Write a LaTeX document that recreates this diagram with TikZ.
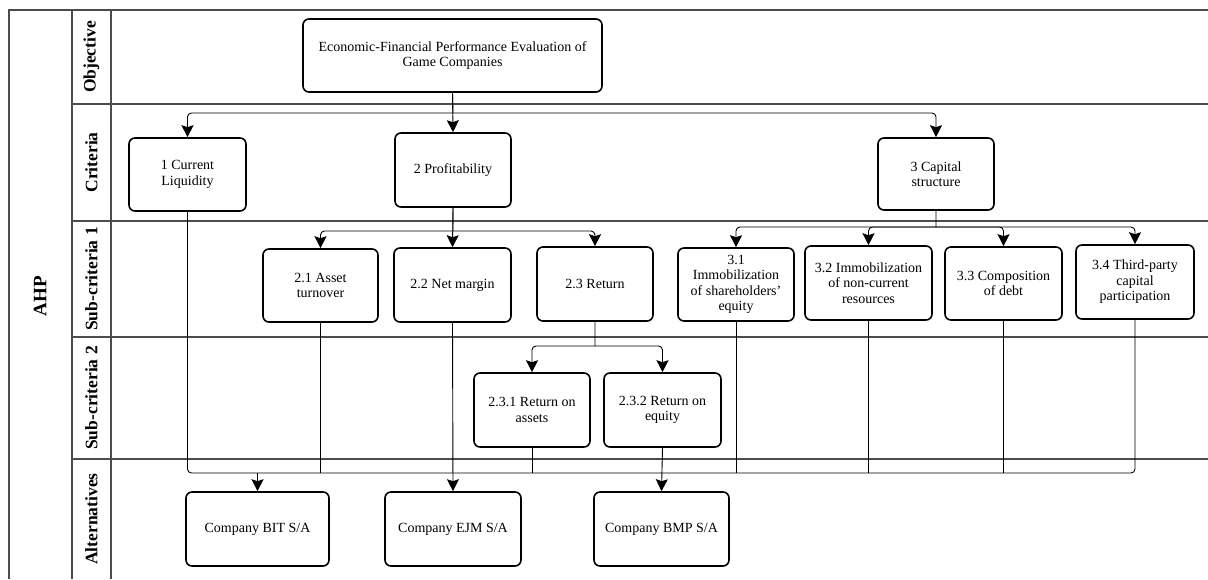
\documentclass[tikz,border=0pt]{standalone}
\usepackage{fontspec}
\setmainfont{Liberation Serif}
\usetikzlibrary{arrows.meta}
\begin{document}
\begin{tikzpicture}[x=1pt,y=-1pt,
  box/.style={draw=black, line width=1.6pt, rounded corners=6pt, align=center,
    font=\fontsize{14}{15.5}\selectfont, inner sep=2pt, fill=white},
  lane/.style={rotate=90, font=\bfseries\fontsize{17.5}{20}\selectfont, inner sep=0pt},
  frameline/.style={draw=black!70, line width=1.3pt},
  conn/.style={draw=black, line width=0.9pt},
  tipped/.style={-{Stealth[length=12pt,width=12pt,inset=2pt,sharp,fill=black]}},
  arr/.style={conn, tipped}]
\useasboundingbox (0,0) rectangle (1208,579);
% frame and lanes
\draw[frameline] (9,579) -- (9,10) -- (1208,10);
\draw[frameline] (72,10) -- (72,579);
\draw[frameline] (111,10) -- (111,579);
\foreach \yy in {104,221,337,459} {\draw[frameline] (72,\yy) -- (1208,\yy);}
\node[lane, font=\bfseries\fontsize{19}{22}\selectfont] (lahp) at (40,296) {AHP};
\node[lane] (lobj) at (91.5,57) {Objective};
\node[lane] (lcri) at (91.5,162.5) {Criteria};
\node[lane] (lsc1) at (91.5,279) {Sub-criteria 1};
\node[lane] (lsc2) at (91.5,398) {Sub-criteria 2};
\node[lane] (lalt) at (91.5,519) {Alternatives};
% boxes
\node[box, minimum width=299pt, minimum height=73pt] (obj) at (452.5,55.5) {Economic-Financial Performance Evaluation of\\Game Companies};
\node[box, minimum width=117pt, minimum height=73pt] (c1) at (187.5,174.5) {1 Current\\Liquidity};
\node[box, minimum width=116pt, minimum height=74pt] (c2) at (453,170) {2 Profitability};
\node[box, minimum width=116pt, minimum height=72pt] (c3) at (936,174) {3 Capital\\structure};
\node[box, minimum width=115pt, minimum height=73pt] (s21) at (320.5,285.5) {2.1 Asset\\turnover};
\node[box, minimum width=117pt, minimum height=74pt] (s22) at (452.5,285) {2.2 Net margin};
\node[box, minimum width=116pt, minimum height=74pt] (s23) at (595,284) {2.3 Return};
\node[box, minimum width=116pt, minimum height=73pt] (s31) at (736,284.5) {3.1\\Immobilization\\of shareholders'\\equity};
\node[box, minimum width=127pt, minimum height=74pt] (s32) at (868.5,283) {3.2 Immobilization\\of non-current\\resources};
\node[box, minimum width=117pt, minimum height=73pt] (s33) at (1003.5,283.5) {3.3 Composition\\of debt};
\node[box, minimum width=118pt, minimum height=74pt] (s34) at (1135,282) {3.4 Third-party\\capital\\participation};
\node[box, minimum width=116pt, minimum height=74pt] (s231) at (532,410) {2.3.1 Return on\\assets};
\node[box, minimum width=117pt, minimum height=74pt] (s232) at (662.5,410) {2.3.2 Return on\\equity};
\node[box, minimum width=143pt, minimum height=74pt] (a1) at (257.5,529) {Company BIT S/A};
\node[box, minimum width=136pt, minimum height=74pt] (a2) at (453,529) {Company EJM S/A};
\node[box, minimum width=135pt, minimum height=74pt] (a3) at (661.5,529) {Company BMP S/A};
% junctions
\coordinate (j0) at (453,113);
\coordinate (j2) at (453,231);
\coordinate (j3) at (936,227);
\coordinate (j23) at (595,346);
\coordinate (bus) at (600,473);
% objective -> criteria
\draw[arr] (obj.south) -- (c2.north);
\draw[arr] (obj.south) -- (j0) [rounded corners=4pt] -| (c1.north);
\draw[arr] (j0) [rounded corners=4pt] -| (c3.north);
% profitability -> sub-criteria
\draw[arr] (c2.south) -- (s22.north);
\draw[arr] (c2.south) -- (j2) [rounded corners=4pt] -| (s21.north);
\draw[arr] (j2) [rounded corners=4pt] -| (s23.north);
% capital structure -> sub-criteria
\draw[arr] (c3.south) -- (j3) [rounded corners=4pt] -| (s31.north);
\draw[arr] (j3) [rounded corners=4pt] -| (s32.north);
\draw[arr] (j3) [rounded corners=4pt] -| (s33.north);
\draw[arr] (j3) [rounded corners=4pt] -| (s34.north);
% return -> sub-criteria 2
\draw[arr] (s23.south) -- (j23) [rounded corners=4pt] -| (s231.north);
\draw[arr] (j23) [rounded corners=4pt] -| (s232.north);
% bus to alternatives
\draw[conn, rounded corners=4pt] (c1.south) -- (c1.south |- bus) -- (s34.south |- bus) -- (s34.south);
\draw[conn] (s21.south) -- (s21.south |- bus);
\draw[conn] (s231.south) -- (s231.south |- bus);
\draw[conn] (s31.south) -- (s31.south |- bus);
\draw[conn] (s32.south) -- (s32.south |- bus);
\draw[conn] (s33.south) -- (s33.south |- bus);
\draw[arr] (a1.north |- bus) -- (a1.north);
\draw[arr] (s22.south) -- (a2.north);
\draw[arr] (s232.south) -- (a3.north);
\end{tikzpicture}
\end{document}
